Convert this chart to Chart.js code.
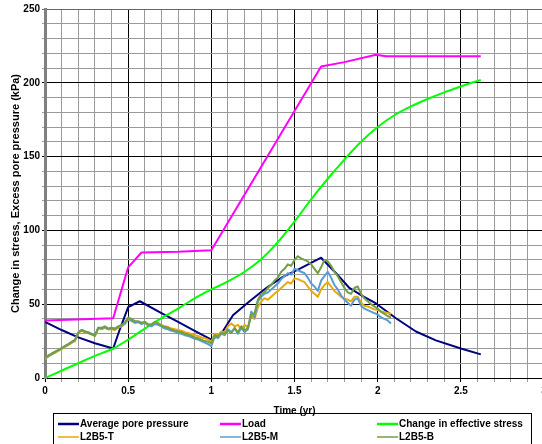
<!DOCTYPE html>
<html>
<head>
<meta charset="utf-8">
<script src="https://cdn.jsdelivr.net/npm/chart.js@4/dist/chart.umd.min.js"></script>
<style>
  html, body { margin: 0; padding: 0; overflow: hidden; background: #fff; }
  canvas { display: block; }
</style>
</head>
<body>
<canvas id="c" width="560" height="444"></canvas>
<script>
// ---- Series data (time in years, values in kPa) ----
const avgTimes = [0, 0.1, 0.2, 0.3, 0.41, 0.45, 0.5, 0.57, 0.7, 0.8, 0.9, 1.0, 1.06, 1.13, 1.23, 1.33, 1.43, 1.53, 1.66, 1.75, 1.83, 1.91, 1.99, 2.11, 2.23, 2.35, 2.5, 2.62];
const avgPore  = [38, 32.5, 27.5, 23.5, 20, 33, 48, 52, 44, 38, 32, 26, 30, 42.5, 52, 61, 68.5, 74, 81.5, 71, 61, 55.5, 50.5, 40.5, 31.5, 25.5, 20, 16];

const loadTimes = [0, 0.41, 0.5, 0.58, 0.8, 1.0, 1.66, 1.8, 1.99, 2.05, 2.62];
const loadVals  = [39, 40.5, 75, 85, 85.5, 86.5, 211, 214, 219, 218, 218];

const effTimes = [0, 0.1, 0.2, 0.3, 0.41, 0.5, 0.6, 0.7, 0.8, 0.9, 1.0, 1.1, 1.2, 1.3, 1.4, 1.5, 1.6, 1.7, 1.8, 1.9, 2.0, 2.1, 2.2, 2.3, 2.4, 2.5, 2.62];
const effStress = [0, 5, 10, 15, 20, 26, 33.5, 40.5, 47, 54, 60, 65.5, 72, 80.5, 92, 106, 121, 135, 148, 160, 170, 178, 184, 189, 193.5, 197.5, 202];

// Piezometer readings, sampled every 0.02 yr
const sensorTimes = [
  0.00, 0.02, 0.04, 0.06, 0.08, 0.10, 0.12, 0.14, 0.16, 0.18,
  0.20, 0.22, 0.24, 0.26, 0.28, 0.30, 0.32, 0.34, 0.36, 0.38,
  0.40, 0.42, 0.44, 0.46, 0.48, 0.50, 0.52, 0.54, 0.56, 0.58,
  0.60, 0.62, 0.64, 0.66, 0.68, 0.70, 0.72, 0.74, 0.76, 0.78,
  0.80, 0.82, 0.84, 0.86, 0.88, 0.90, 0.92, 0.94, 0.96, 0.98,
  1.00, 1.02, 1.04, 1.06, 1.08, 1.10, 1.12, 1.14, 1.16, 1.18,
  1.20, 1.22, 1.24, 1.26, 1.28, 1.30, 1.32, 1.34, 1.36, 1.38,
  1.40, 1.42, 1.44, 1.46, 1.48, 1.50, 1.52, 1.54, 1.56, 1.58,
  1.60, 1.62, 1.64, 1.66, 1.68, 1.70, 1.72, 1.74, 1.76, 1.78,
  1.80, 1.82, 1.84, 1.86, 1.88, 1.90, 1.92, 1.94, 1.96, 1.98,
  2.00, 2.02, 2.04, 2.06, 2.08
];
const l2b5T = [
  13, 14.5, 15.8, 17, 18.3, 19.6, 21, 22.3, 23.8, 25,
  30.5, 32, 31, 30.5, 29.5, 28.5, 33.5, 33, 34, 33,
  33, 32.5, 34, 35, 36.5, 39.5, 38.5, 37.5, 38, 37,
  38, 36.5, 36.5, 37.5, 37, 36, 35, 34.5, 33.5, 33,
  32.5, 32, 31, 30.5, 29.5, 29, 28.5, 27.5, 27, 26,
  24.5, 30, 29, 31.5, 31, 35, 37, 35, 36, 33,
  36, 34, 42, 40, 48, 52, 54, 53, 55, 57,
  59, 61, 63, 65, 64, 67.5, 67, 66, 65, 62,
  59, 57, 55, 60, 63, 65, 62, 59, 57, 55,
  54, 53, 52, 55, 55, 51, 49, 48.5, 47.5, 46.5,
  46, 45, 44.5, 44, 43.5
];
const l2b5M = [
  13.5, 15, 16.2, 17.5, 18.8, 20, 21.5, 22.8, 24.3, 25.5,
  31, 32.5, 31.5, 31, 30, 29, 34, 33.5, 34.5, 33,
  33.5, 33, 34.5, 35.5, 37, 40, 39, 37.5, 38, 36.5,
  37.5, 35.5, 35, 36.5, 36, 35, 33.5, 33, 32, 31.5,
  30.5, 30, 29, 28.5, 27.5, 26.5, 26, 25, 24, 23,
  21.5, 28, 27, 30, 29, 33, 31, 33.5, 30, 34,
  31, 33, 45, 41, 52, 55, 57, 58, 60, 62,
  64, 67, 69, 71, 70, 74, 73, 72, 71, 68,
  64, 62, 59, 66, 69, 72, 68, 63, 60, 56,
  53, 51, 49, 53, 54, 49, 47, 46, 45, 44,
  43, 41, 40, 39, 37
];
const l2b5B = [
  14, 15.3, 16.6, 17.8, 19, 20.3, 21.7, 23, 24.5, 25.8,
  30.5, 32.5, 31.5, 30.5, 29.5, 28.5, 34, 34, 35, 33.5,
  34, 33.5, 35, 36, 37.5, 41, 40, 38.5, 38.5, 37.5,
  38, 36, 36, 38, 37, 35.5, 34.5, 34, 33, 32,
  31.5, 31, 30, 29.5, 28.5, 27.5, 27, 26, 25, 24.5,
  23.5, 29, 28, 30.5, 30, 32, 30.5, 34, 31, 35,
  32, 34, 43, 44, 53, 57, 58, 61, 63, 66,
  68, 72, 74, 77, 76, 80, 82.5, 81, 80, 79,
  77, 74, 71, 75, 80, 79, 76, 72, 69, 65,
  61, 58, 57, 61, 62, 57, 54, 52, 50, 48.5,
  47, 45, 43.5, 42, 41
];

// Axis range and labels
const xMin = 0, xMax = 3, xMinorStep = 0.1;
const yMin = 0, yMax = 250, yMinorStep = 10;
const xTitle = 'Time (yr)';
const yTitle = 'Change in stress, Excess pore pressure (kPa)';

const FONT = "'Liberation Sans', Arial, sans-serif";

function pts(xs, ys) { return xs.map((x, i) => ({ x: x, y: ys[i] })); }

// Boxed three-column legend under the axis title
const boxLegend = {
  id: 'boxLegend',
  afterDraw(chart) {
    const ctx = chart.ctx;
    ctx.save();
    ctx.strokeStyle = '#000';
    ctx.lineWidth = 1;
    ctx.strokeRect(53.5, 413.5, 478, 40);
    const cols = [58, 220, 377];
    const rows = [424, 437];
    chart.data.datasets.forEach((ds, i) => {
      const x = cols[i % 3], y = rows[Math.floor(i / 3)];
      ctx.strokeStyle = ds.borderColor;
      ctx.lineWidth = i < 3 ? 2.5 : 1.5;
      ctx.beginPath();
      ctx.moveTo(x, y);
      ctx.lineTo(x + 21, y);
      ctx.stroke();
      ctx.fillStyle = '#000';
      ctx.font = 'bold 10px ' + FONT;
      ctx.textBaseline = 'middle';
      ctx.textAlign = 'left';
      ctx.fillText(ds.label, x + 22, y + 0.5);
    });
    ctx.restore();
  }
};

new Chart(document.getElementById('c'), {
  type: 'line',
  data: {
    datasets: [
      { label: 'Average pore pressure', data: pts(avgTimes, avgPore), borderColor: '#000080', borderWidth: 2, order: 6 },
      { label: 'Load', data: pts(loadTimes, loadVals), borderColor: '#FF00FF', borderWidth: 2, order: 5 },
      { label: 'Change in effective stress', data: pts(effTimes, effStress), borderColor: '#00FF00', borderWidth: 2, cubicInterpolationMode: 'monotone', order: 4 },
      { label: 'L2B5-T', data: pts(sensorTimes, l2b5T), borderColor: '#E8A90C', borderWidth: 2, order: 3 },
      { label: 'L2B5-M', data: pts(sensorTimes, l2b5M), borderColor: '#5B9BD5', borderWidth: 2, order: 2 },
      { label: 'L2B5-B', data: pts(sensorTimes, l2b5B), borderColor: '#70A040', borderWidth: 2, order: 1 }
    ]
  },
  options: {
    responsive: false,
    animation: false,
    elements: { point: { radius: 0 }, line: { tension: 0, borderJoinStyle: 'round' } },
    layout: { padding: { left: 0, top: 9, right: 16, bottom: 26 } },
    plugins: { legend: { display: false }, tooltip: { enabled: false } },
    scales: {
      x: {
        type: 'linear', min: xMin, max: xMax,
        afterFit: s => { s.height = 40; },
        ticks: {
          stepSize: xMinorStep, autoSkip: false, maxRotation: 0, color: '#000', padding: 3,
          font: { family: FONT, size: 10, weight: 'bold' },
          callback: v => { const r = Math.round(v * 10); return r % 5 === 0 ? String(r / 10) : ''; }
        },
        grid: {
          color: c => { const r = Math.round(c.tick.value * 10); return r % 5 === 0 ? '#000' : '#9a9a9a'; },
          lineWidth: 1, tickLength: 4
        },
        border: { color: '#000', width: 1 },
        title: { display: true, text: xTitle, color: '#000', font: { family: FONT, size: 10, weight: 'bold' }, padding: { top: 4, bottom: 1 } }
      },
      y: {
        min: yMin, max: yMax,
        afterFit: s => { s.width = 45; },
        ticks: {
          stepSize: yMinorStep, autoSkip: false, color: '#000', padding: 2,
          font: { family: FONT, size: 10, weight: 'bold' },
          callback: v => (Math.round(v) % 50 === 0 ? String(Math.round(v)) : '')
        },
        grid: {
          color: c => { const v = Math.round(c.tick.value); return v === yMax ? '#666' : (v % 50 === 0 ? '#000' : '#9a9a9a'); },
          lineWidth: 1, tickLength: 3
        },
        border: { color: '#808080', width: 3 },
        title: { display: true, text: yTitle, color: '#000', font: { family: FONT, size: 11, weight: 'bold' }, padding: { top: 9, bottom: 0 } }
      }
    }
  },
  plugins: [boxLegend]
});
</script>
</body>
</html>
